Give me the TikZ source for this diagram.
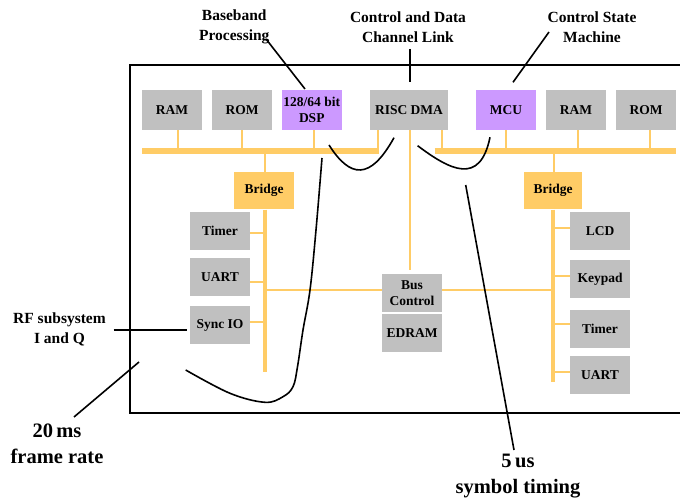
\documentclass[tikz,border=0pt]{standalone}
\usepackage{fontspec}
\setmainfont{Liberation Serif}
\definecolor{blockgray}{HTML}{C0C0C0}
\definecolor{procpurple}{HTML}{CC99FF}
\definecolor{busorange}{HTML}{FFCC66}
\begin{document}
\begin{tikzpicture}[x=1pt,y=-1pt,
  blk/.style={fill=blockgray,draw=none,minimum width=60pt,minimum height=38pt,inner sep=0pt,
    align=center,font=\bfseries\fontsize{13.5}{15.7}\selectfont},
  topblk/.style={blk,minimum height=40pt},
  proc/.style={topblk,fill=procpurple},
  bridgeblk/.style={blk,fill=busorange,minimum height=37.5pt},
  mainbus/.style={busorange,line width=5.4pt},
  sidebus/.style={busorange,line width=4.6pt},
  tap/.style={busorange,line width=2pt},
  link/.style={busorange,line width=2.5pt},
  pointer/.style={black,line width=1.6pt},
  note/.style={align=center,font=\bfseries\fontsize{15.5}{20}\selectfont,inner sep=0pt},
  bignote/.style={align=center,font=\bfseries\fontsize{20.5}{25.5}\selectfont,inner sep=0pt}]
\useasboundingbox (0,0) rectangle (680,502);

% chip outline
\draw[line width=2pt] (130,65.5) rectangle (690,413.3);

% top row of blocks
\node[topblk] (ram1) at (172,110) {RAM};
\node[topblk] (rom1) at (242,110) {ROM};
\node[proc,minimum width=59.5pt] (dsp) at (311.75,110) {128/64 bit\\DSP};
\node[topblk,minimum width=78pt] (risc) at (409,110) {RISC DMA};
\node[proc] (mcu) at (506,110) {MCU};
\node[topblk] (ram2) at (576,110) {RAM};
\node[topblk] (rom2) at (646,110) {ROM};

% bridges
\node[bridgeblk] (brl) at (264,190.7) {Bridge};
\node[bridgeblk,minimum width=58pt] (brr) at (553,190.7) {Bridge};

% left peripherals
\node[blk] (timerl) at (220,231) {Timer};
\node[blk] (uartl) at (220,277) {UART};
\node[blk] (sync) at (220,325) {Sync IO};

% centre
\node[blk] (busc) at (412,293) {Bus\\Control};
\node[blk] (edram) at (412,333) {EDRAM};

% right peripherals
\node[blk,minimum height=37.5pt] (lcd) at (600,231) {LCD};
\node[blk,minimum height=37.5pt] (keypad) at (600,279) {Keypad};
\node[blk,minimum height=37.5pt] (timerr) at (600,329) {Timer};
\node[blk,minimum height=37.5pt] (uartr) at (600,375) {UART};

% system buses
\coordinate (busLa) at (142,151);
\coordinate (busLb) at (379,151);
\coordinate (busRa) at (434.5,151);
\coordinate (busRb) at (676,151);
\draw[mainbus] (busLa) -- (busLb);
\draw[mainbus] (busRa) -- (busRb);

% taps from the top row onto the buses
\draw[tap] (ram1.south -| 178,0) -- (178,151);
\draw[tap] (rom1.south) -- (242,151);
\draw[tap] (dsp.south -| 314,0) -- (314,151);
\draw[tap] (risc.south -| 378,0) -- (378,151);
\draw[tap] (risc.south -| 442,0) -- (442,151);
\draw[tap] (mcu.south) -- (506,151);
\draw[tap] (ram2.south -| 578,0) -- (578,151);
\draw[tap] (rom2.south -| 650,0) -- (650,151);
\draw[tap] (265,151) -- (brl.north -| 265,0);
\draw[tap] (554,151) -- (brr.north -| 554,0);

% peripheral buses below the bridges
\coordinate (pbl) at (265,372);
\coordinate (pbr) at (553,382);
\draw[sidebus] (brl.south -| pbl) -- (pbl);
\draw[sidebus] (brr.south -| pbr) -- (pbr);
\draw[tap] (timerl.east |- 0,233) -- (267,233);
\draw[tap] (uartl.east |- 0,282) -- (267,282);
\draw[tap] (sync.east |- 0,322) -- (267,322);
\draw[tap] (553,228) -- (lcd.west |- 0,228);
\draw[tap] (553,276) -- (keypad.west |- 0,276);
\draw[tap] (553,324) -- (timerr.west |- 0,324);
\draw[tap] (553,372) -- (uartr.west |- 0,372);

% links to the bus controller
\draw[link] (265,290) -- (busc.west |- 0,290);
\draw[link] (busc.east |- 0,290) -- (553,290);
\draw[link] (risc.south -| 410,0) -- (410,270);

% callouts
\node[note] (lblbase) at (234.3,27) {Baseband\\Processing};
\node[note] (lblctl) at (408,27) {Control and Data\\Channel Link};
\node[note] (lblfsm) at (592,27) {Control State\\Machine};
\node[note] (lblrf) at (59.5,329.5) {RF subsystem\\I and Q};
\node[bignote] (lblframe) at (57,444) {20\,ms\\frame rate};
\node[bignote] (lblsym) at (518,476) {5\,us\\symbol timing};

\coordinate (pbase) at (266,39);
\coordinate (pctl) at (410,49);
\coordinate (pfsm) at (549,32);
\coordinate (prf) at (113.7,330);
\coordinate (pframe) at (139,362);
\coordinate (pframeend) at (74,417);
\coordinate (psym) at (465.7,185);
\coordinate (psymend) at (514,450);

\draw[pointer] (pbase) -- (305,89);
\draw[pointer] (pctl) -- (410,82.3);
\draw[pointer] (pfsm) -- (513,82.3);
\draw[pointer] (prf) -- (186.5,330);
\draw[pointer] (pframe) -- (pframeend);
\draw[pointer] (psym) -- (psymend);

% timing waveforms
\draw[pointer] (329,145) .. controls (350,178) and (370,181) .. (394,137.7);
\draw[pointer] (417.6,145.7) .. controls (450,170) and (480,186) .. (490,137.3);
\draw[pointer] plot[smooth,tension=0.6] coordinates {(185.7,370) (230,393.3) (265,402.3)
  (283,396.7) (293,386.7) (297.5,366.7) (303,330) (310,290) (316,230) (322,158)};
\end{tikzpicture}
\end{document}
